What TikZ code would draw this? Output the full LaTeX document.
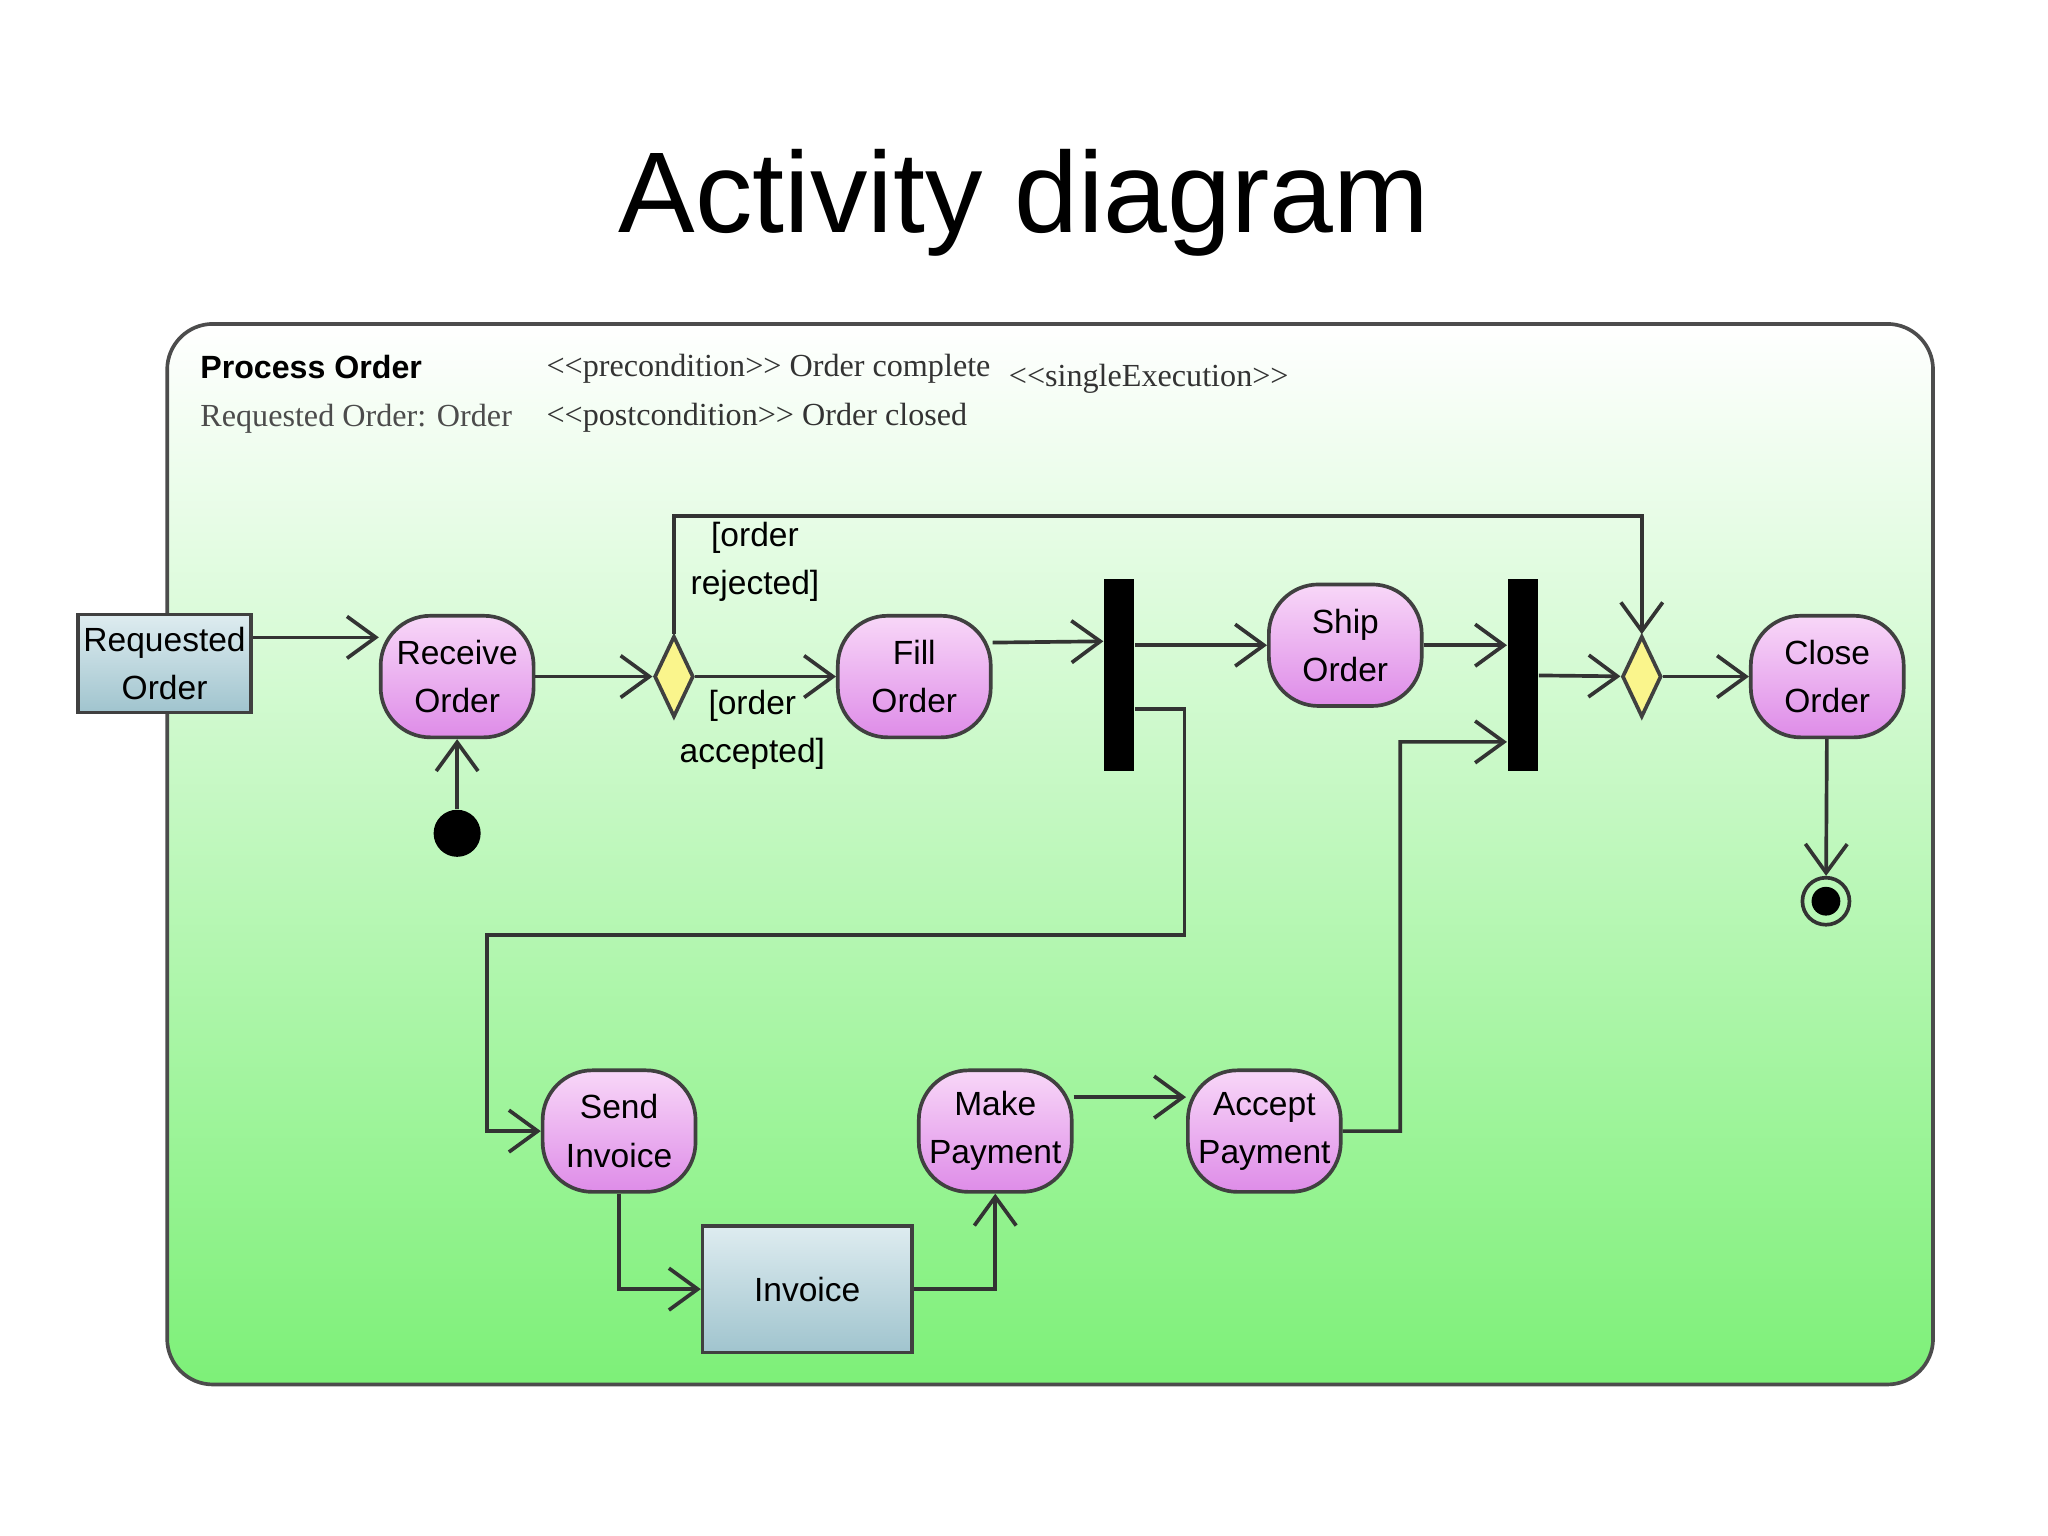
\documentclass[tikz,border=0pt]{standalone}
\usepackage{fontspec}
\setmainfont{Liberation Sans}
\newfontfamily\hdrfont{Liberation Serif}
\usepackage{tikz}
\usetikzlibrary{shapes,arrows.meta,positioning,calc}

\definecolor{framegreen}{RGB}{125,240,120}
\definecolor{actlight}{RGB}{248,215,248}
\definecolor{actdark}{RGB}{222,140,232}
\definecolor{objlight}{RGB}{222,236,240}
\definecolor{objdark}{RGB}{160,196,206}
\definecolor{decyellow}{RGB}{250,245,140}

\begin{document}
\begin{tikzpicture}[
    x=0.01cm, y=-0.01cm,
    action/.style={rectangle, draw=black!75, thick, rounded corners=0.38cm, top color=actlight, bottom color=actdark, minimum width=1.17cm, minimum height=0.93cm, align=center, font=\fontsize{7.3}{10.5}\selectfont, inner sep=1pt},
    object/.style={rectangle, draw=black!75, thick, top color=objlight, bottom color=objdark, align=center, font=\fontsize{7.3}{10.5}\selectfont, inner sep=1pt},
    decision/.style={diamond, draw=black!75, thick, fill=decyellow, minimum width=0.3cm, minimum height=0.62cm, inner sep=0pt, aspect=0.5},
    bar/.style={rectangle, fill=black, minimum width=0.23cm, minimum height=1.47cm, inner sep=0pt},
    flow/.style={-{Straight Barb[length=2.2mm,width=3.2mm]}, black!80, thick},
    guard/.style={font=\fontsize{7.3}{10.5}\selectfont, align=center},
    header/.style={font=\hdrfont\fontsize{7}{9}\selectfont, anchor=west}
]
\useasboundingbox (0,0) rectangle (1568,1176);

% Title
\node[font=\fontsize{25}{30}\selectfont] (title) at (784,155) {Activity diagram};

% Activity frame
\draw[black!70, thick, rounded corners=0.35cm, top color=white, bottom color=framegreen] (128,248) rectangle (1480,1060);
\node[header, font=\bfseries\fontsize{7}{9}\selectfont] (name) at (141,281) {Process Order};
\node[header, text=black!70] (param) at (141,321) {Requested Order: Order};
\node[header, text=black!80] (pre) at (406,282) {<<precondition>> Order complete};
\node[header, text=black!80] (post) at (406,320) {<<postcondition>> Order closed};
\node[header, text=black!80] (single) at (760,290) {<<singleExecution>>};

% Nodes
\node[object, minimum width=1.32cm, minimum height=0.75cm] (req) at (126,508) {Requested\\Order};
\node[action] (receive) at (350,518) {Receive\\Order};
\node[circle, fill=black, minimum size=0.36cm, inner sep=0pt] (start) at (350,638) {};
\node[decision] (dec1) at (516,518) {};
\node[action] (fill) at (700,518) {Fill\\Order};
\node[bar] (fork) at (857,517) {};
\node[action] (ship) at (1030,494) {Ship\\Order};
\node[bar] (join) at (1166,517) {};
\node[decision] (dec2) at (1257,518) {};
\node[action] (close) at (1399,518) {Close\\Order};
\node[circle, draw=black!80, thick, minimum size=0.36cm, inner sep=0pt] (stop) at (1398,690) {};
\node[circle, fill=black, minimum size=0.22cm, inner sep=0pt] (stopdot) at (stop) {};
\node[action] (send) at (474,866) {Send\\Invoice};
\node[object, minimum width=1.6cm, minimum height=0.97cm] (invoice) at (618,987) {Invoice};
\node[action] (make) at (762,866) {Make\\Payment};
\node[action] (accept) at (968,866) {Accept\\Payment};

% Flows
\coordinate (reqout) at ([yshift=0.2cm]req.east);
\draw[flow] (reqout) -- (receive.west |- reqout);
\draw[flow] (start) -- (receive);
\draw[flow] (receive) -- (dec1);
\draw[flow] (dec1.north) |- (1257,395) -- (dec2.north);
\node[guard] (rejected) at (578,430) {[order\\rejected]};
\draw[flow] (dec1) -- (fill);
\node[guard] (accepted) at (576,559) {[order\\accepted]};
\draw[flow] ([yshift=0.26cm]fill.east) -- ([yshift=0.26cm]fork.west);
\draw[flow] (fork.east |- ship.west) -- (ship.west);
\draw[flow] ([yshift=-0.26cm]fork.east) -| (907,716) -| (373,866) -- (send.west);
\draw[flow] (ship.east) -- (join.west |- ship.east);
\draw[flow] (join) -- (dec2);
\draw[flow] (dec2) -- (close);
\draw[flow] (close) -- (stop);
\draw[flow] (send.south) |- (invoice.west);
\draw[flow] (invoice.east) -| (make.south);
\draw[flow] ([yshift=0.26cm]make.east) -- ([yshift=0.26cm]accept.west);
\draw[flow] (accept.east) -| (1072,568) -- ([yshift=-0.51cm]join.west);
\end{tikzpicture}
\end{document}
